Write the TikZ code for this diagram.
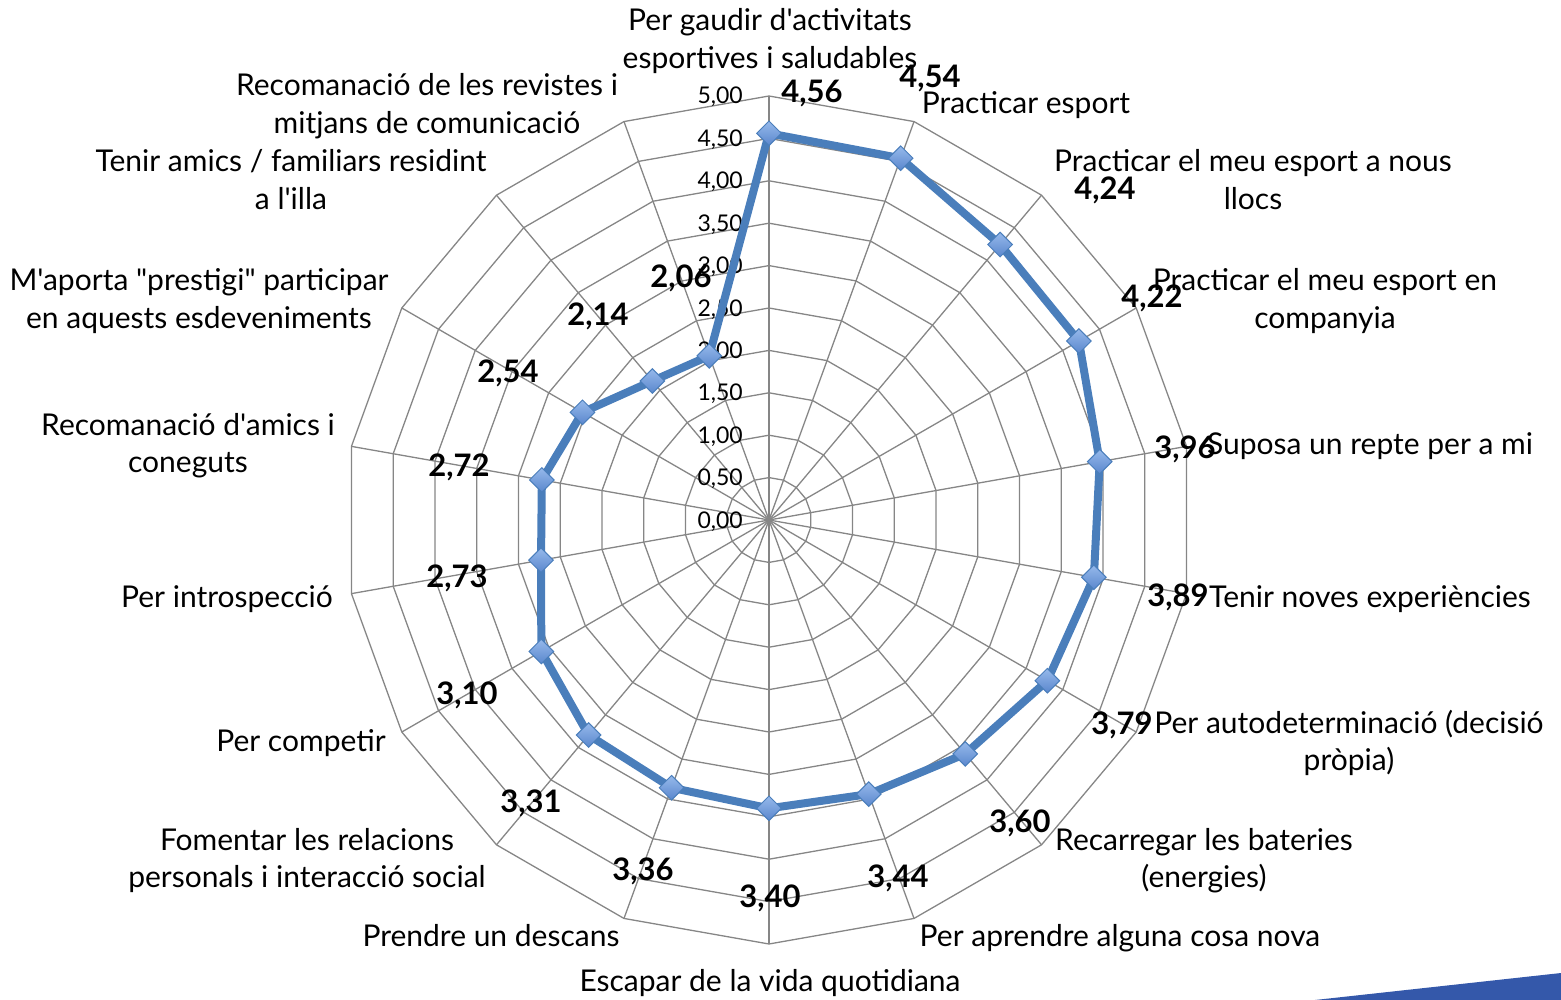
\documentclass[tikz,border=0pt]{standalone}
\usepackage{fontspec}
\setmainfont{Lato}[Ligatures=TeXOff]
\usetikzlibrary{shapes.geometric}
\definecolor{gridgray}{RGB}{134,134,134}
\definecolor{serblue}{RGB}{74,126,187}
\definecolor{mktop}{RGB}{150,185,235}
\definecolor{mkbot}{RGB}{90,135,205}
\definecolor{cornerblue}{RGB}{52,88,170}
\newcommand\mytwo[2]{\vtop{\halign{\hfil##\hfil\cr #1\cr #2\cr}}}
\begin{document}
\begin{tikzpicture}[x=1pt,y=-1pt,
  grid/.style={draw=gridgray, line width=1.3pt},
  cat/.style={font=\fontsize{30}{37.5}\selectfont, inner sep=0pt, anchor=base},
  val/.style={font=\bfseries\fontsize{31}{33}\selectfont, inner sep=0pt, anchor=base},
  tick/.style={font=\fontsize{23}{25}\selectfont, inner sep=0pt, anchor=base east},
  series/.style={draw=serblue, line width=8pt, line join=round},
  mk/.style={diamond, minimum width=25pt, minimum height=25pt, inner sep=0pt, top color=mktop, bottom color=mkbot, draw=serblue, line width=1pt}]
\useasboundingbox (0,0) rectangle (1561,1000);
\fill[cornerblue] (1315,1000) -- (1561,973) -- (1561,1000) -- cycle;
\coordinate (ctr) at (769,520);
% outer vertices and spokes
\foreach \j in {0,...,17}{
  \coordinate (o\j) at ({769+424*sin(20*\j)},{520-424*cos(20*\j)});
  \draw[grid] (ctr) -- (o\j);
}
% rings
\foreach \k in {1,...,10}{
  \draw[grid] ({769+42.4*\k*sin(0)},{520-42.4*\k*cos(0)})
    \foreach \j in {1,...,17}{ -- ({769+42.4*\k*sin(20*\j)},{520-42.4*\k*cos(20*\j)}) } -- cycle;
}
% tick labels
\foreach \k/\t in {0/{0,00},1/{0,50},2/{1,00},3/{1,50},4/{2,00},5/{2,50},6/{3,00},7/{3,50},8/{4,00},9/{4,50},10/{5,00}}{
  \node[tick] (t\k) at (743,{528-42.4*\k}) {\t};
}
% data points
\foreach \i/\v in {0/4.56,1/4.54,2/4.24,3/4.22,4/3.96,5/3.89,6/3.79,7/3.60,8/3.44,9/3.40,10/3.36,11/3.31,12/3.10,13/2.73,14/2.72,15/2.54,16/2.14,17/2.06}{
  \coordinate (p\i) at ({769+84.8*\v*sin(20*\i)},{520-84.8*\v*cos(20*\i)});
}
\draw[series] (p0) -- (p1) -- (p2) -- (p3) -- (p4) -- (p5) -- (p6) -- (p7) -- (p8) -- (p9) -- (p10) -- (p11) -- (p12) -- (p13) -- (p14) -- (p15) -- (p16) -- (p17) -- cycle;
\foreach \i in {0,...,17}{ \node[mk] (m\i) at (p\i) {}; }
% value labels
\node[val] (v0) at (812,103) {4,56};
\node[val] (v1) at (930,88) {4,54};
\node[val] (v2) at (1105,200) {4,24};
\node[val] (v3) at (1152,308) {4,22};
\node[val] (v4) at (1185,458) {3,96};
\node[val] (v5) at (1178,606) {3,89};
\node[val] (v6) at (1122,734) {3,79};
\node[val] (v7) at (1020,832) {3,60};
\node[val] (v8) at (898,887) {3,44};
\node[val] (v9) at (770,907) {3,40};
\node[val] (v10) at (643,880) {3,36};
\node[val] (v11) at (531,812) {3,31};
\node[val] (v12) at (467,704) {3,10};
\node[val] (v13) at (457,587) {2,73};
\node[val] (v14) at (459,476) {2,72};
\node[val] (v15) at (508,382) {2,54};
\node[val] (v16) at (598,326) {2,14};
\node[val] (v17) at (681,288) {2,06};
% category labels
\node[cat] (c0) at (770,31) {\mytwo{Per gaudir d'activitats}{esportives i saludables}};
\node[cat] (c1) at (1026,114) {Practicar esport};
\node[cat] (c2) at (1253,172) {\mytwo{Practicar el meu esport a nous}{llocs}};
\node[cat] (c3) at (1325,291) {\mytwo{Practicar el meu esport en}{companyia}};
\node[cat] (c4) at (1370,454) {Suposa un repte per a mi};
\node[cat] (c5) at (1370,607) {Tenir noves experiències};
\node[cat] (c6) at (1349,733) {\mytwo{Per autodeterminació (decisió}{pròpia)}};
\node[cat] (c7) at (1204,850) {\mytwo{Recarregar les bateries}{(energies)}};
\node[cat] (c8) at (1120,946) {Per aprendre alguna cosa nova};
\node[cat] (c9) at (770,991) {Escapar de la vida quotidiana};
\node[cat] (c10) at (491,946) {Prendre un descans};
\node[cat] (c11) at (307,850) {\mytwo{Fomentar les relacions}{personals i interacció social}};
\node[cat] (c12) at (301,751) {Per competir};
\node[cat] (c13) at (227,607) {Per introspecció};
\node[cat] (c14) at (188,435) {\mytwo{Recomanació d'amics i}{coneguts}};
\node[cat] (c15) at (199,291) {\mytwo{M'aporta "prestigi" participar}{en aquests esdeveniments}};
\node[cat] (c16) at (291,172) {\mytwo{Tenir amics / familiars residint}{a l'illa}};
\node[cat] (c17) at (427,96) {\mytwo{Recomanació de les revistes i}{mitjans de comunicació}};
\end{tikzpicture}
\end{document}
